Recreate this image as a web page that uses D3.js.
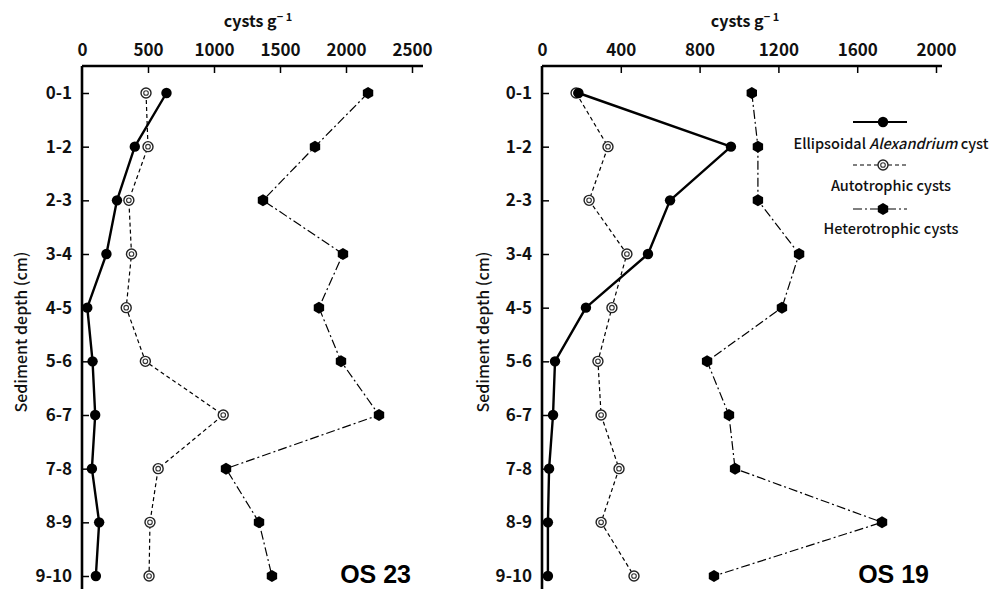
<!DOCTYPE html>
<html>
<head>
<meta charset="utf-8">
<script src="https://cdn.jsdelivr.net/npm/d3@7"></script>
<style>
  html, body { margin: 0; padding: 0; background: #fff; }
  svg { display: block; }
</style>
</head>
<body>
<svg id="chart" width="997" height="589"></svg>
<script>
// ---- Data ----
const depths = ["0-1", "1-2", "2-3", "3-4", "4-5", "5-6", "6-7", "7-8", "8-9", "9-10"];

const os23Ellipsoidal  = [640, 400, 265, 185, 40, 80, 100, 75, 130, 105];
const os23Autotrophic  = [485, 500, 355, 375, 335, 480, 1070, 577, 515, 508];
const os23Heterotrophic = [2167, 1765, 1371, 1977, 1795, 1962, 2250, 1091, 1341, 1439];

const os19Ellipsoidal  = [185, 959, 650, 538, 223, 66, 56, 36, 30, 30];
const os19Autotrophic  = [173, 335, 239, 431, 355, 284, 300, 391, 300, 467];
const os19Heterotrophic = [1065, 1096, 1096, 1305, 1218, 838, 949, 980, 1726, 873];

const os23Ticks = [0, 500, 1000, 1500, 2000, 2500];
const os19Ticks = [0, 400, 800, 1200, 1600, 2000];

const seriesNames = ["Ellipsoidal", "Autotrophic cysts", "Heterotrophic cysts"];

// ---- Layout ----
const svg = d3.select("#chart");
const FONT = "'Noto Sans CJK JP', 'Noto Sans', sans-serif";
const axisY = 66;

const y = d3.scalePoint().domain(depths).range([93, 576]);

const panels = [
  { name: "OS 23", x0: 82, x1: 412, lineEnd: 423, max: 2500, ticks: os23Ticks,
    ell: os23Ellipsoidal, aut: os23Autotrophic, het: os23Heterotrophic,
    titleX: 258, ylabX: 20, osX: 411 },
  { name: "OS 19", x0: 542, x1: 936, lineEnd: 942, max: 2000, ticks: os19Ticks,
    ell: os19Ellipsoidal, aut: os19Autotrophic, het: os19Heterotrophic,
    titleX: 745, ylabX: 482, osX: 929 }
];

function drawCircle(g, cx, cy) {
  g.append("circle").attr("cx", cx).attr("cy", cy).attr("r", 5.2).attr("fill", "#000");
}
function drawDouble(g, cx, cy) {
  g.append("circle").attr("cx", cx).attr("cy", cy).attr("r", 5).attr("fill", "#fff")
    .attr("stroke", "#222").attr("stroke-width", 1.4);
  g.append("circle").attr("cx", cx).attr("cy", cy).attr("r", 2.3).attr("fill", "#fff")
    .attr("stroke", "#333").attr("stroke-width", 1.1);
}
function drawHex(g, cx, cy) {
  const r = 6;
  const pts = d3.range(6).map(i => {
    const a = Math.PI / 6 + i * Math.PI / 3;
    return [cx + r * Math.cos(a), cy + r * Math.sin(a)];
  });
  g.append("polygon").attr("points", pts.map(p => p.join(",")).join(" ")).attr("fill", "#000");
}

const styles = {
  ell: { width: 2.4, dash: null, marker: drawCircle },
  aut: { width: 1.2, dash: "4,3", marker: drawDouble },
  het: { width: 1.2, dash: "9,3,2,3", marker: drawHex }
};

panels.forEach(p => {
  const x = d3.scaleLinear().domain([0, p.max]).range([p.x0, p.x1]);
  const g = svg.append("g");

  // Top axis
  const top = g.append("g").attr("transform", `translate(0,${axisY})`)
    .call(d3.axisTop(x).tickValues(p.ticks).tickFormat(d3.format("d"))
      .tickSizeInner(-7).tickSizeOuter(0).tickPadding(10));
  top.select(".domain").remove();
  top.selectAll(".tick line").attr("stroke", "#000").attr("stroke-width", 1.5)
    .filter(d => d === 0).remove();
  top.selectAll(".tick text").attr("font-family", FONT).attr("font-size", 17)
    .attr("font-weight", "bold").attr("fill", "#111");

  // Left axis
  const left = g.append("g").attr("transform", `translate(${p.x0},0)`)
    .call(d3.axisLeft(y).tickSizeInner(-7).tickSizeOuter(0).tickPadding(10));
  left.select(".domain").remove();
  left.selectAll(".tick line").attr("stroke", "#000").attr("stroke-width", 1.5);
  left.selectAll(".tick text").attr("font-family", FONT).attr("font-size", 17)
    .attr("font-weight", "bold").attr("fill", "#111");

  // Axis lines
  g.append("line").attr("x1", p.x0).attr("x2", p.lineEnd).attr("y1", axisY).attr("y2", axisY)
    .attr("stroke", "#000").attr("stroke-width", 2.4);
  g.append("line").attr("x1", p.x0).attr("x2", p.x0).attr("y1", axisY).attr("y2", 589)
    .attr("stroke", "#000").attr("stroke-width", 2.6);

  // Title
  const t = g.append("text").attr("x", p.titleX).attr("y", 27).attr("text-anchor", "middle")
    .attr("font-family", FONT).attr("font-size", 16).attr("font-weight", "bold").attr("fill", "#111");
  t.append("tspan").text("cysts  g");
  t.append("tspan").attr("dy", -6).attr("font-size", 11).text("\u2212 1");

  // Y label
  g.append("text").attr("transform", `translate(${p.ylabX},332) rotate(-90)`)
    .attr("text-anchor", "middle").attr("dominant-baseline", "central")
    .attr("font-family", FONT).attr("font-size", 16).attr("font-weight", 500).attr("fill", "#111")
    .text("Sediment depth (cm)");

  // Series
  const line = d3.line().x(d => x(d.v)).y(d => y(d.k));
  ["het", "aut", "ell"].forEach(key => {
    const data = depths.map((k, i) => ({ k, v: p[key][i] }));
    const st = styles[key];
    g.append("path").datum(data).attr("d", line).attr("fill", "none")
      .attr("stroke", "#000").attr("stroke-width", st.width)
      .attr("stroke-dasharray", st.dash).attr("stroke-linejoin", "round");
  });
  ["het", "aut", "ell"].forEach(key => {
    const mg = g.append("g");
    depths.forEach((k, i) => styles[key].marker(mg, x(p[key][i]), y(k)));
  });

  // Panel name
  g.append("text").attr("x", p.osX).attr("y", 583).attr("text-anchor", "end")
    .attr("font-family", "'Liberation Sans', Arial, sans-serif").attr("font-size", 25)
    .attr("font-weight", "bold").attr("fill", "#000").text(p.name);
});

// ---- Legend ----
const lg = svg.append("g");
const legendItems = [
  { key: "ell", lineY: 122, textY: 142 },
  { key: "aut", lineY: 165, textY: 184 },
  { key: "het", lineY: 209, textY: 227 }
];
legendItems.forEach((it, i) => {
  const st = styles[it.key];
  lg.append("line").attr("x1", 853).attr("x2", 907).attr("y1", it.lineY).attr("y2", it.lineY)
    .attr("stroke", "#000").attr("stroke-width", it.key === "ell" ? 2 : 1.2)
    .attr("stroke-dasharray", st.dash);
  st.marker(lg, 883, it.lineY);
  const txt = lg.append("text").attr("x", 891).attr("y", it.textY).attr("text-anchor", "middle")
    .attr("dominant-baseline", "central")
    .attr("font-family", FONT).attr("font-size", 14.5).attr("font-weight", 500).attr("fill", "#111");
  if (it.key === "ell") {
    txt.append("tspan").text("Ellipsoidal ");
    txt.append("tspan").attr("font-style", "italic").text("Alexandrium");
    txt.append("tspan").text(" cyst");
  } else {
    txt.text(seriesNames[i]);
  }
});
</script>
</body>
</html>
